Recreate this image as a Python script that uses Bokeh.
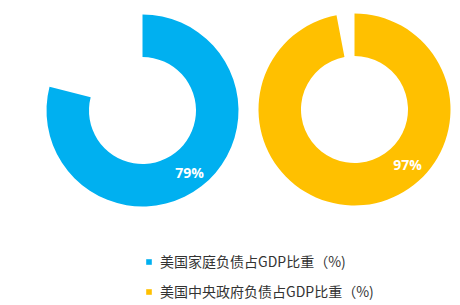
from bokeh.plotting import figure
from bokeh.models import Range1d, Legend, LegendItem, ColumnDataSource
from bokeh.core.properties import value
from bokeh.embed import file_html
from bokeh.resources import INLINE

series_names = ["美国家庭负债占GDP比重（%)", "美国中央政府负债占GDP比重（%)"]
series_values = [79, 97]
series_colors = ["#00B0F0", "#FFC000"]

W, H = 460, 305
p = figure(width=W, height=H, output_backend="svg", toolbar_location=None,
           x_range=Range1d(0, W), y_range=Range1d(0, H), min_border=0)
p.axis.visible = False
p.grid.visible = False
p.outline_line_color = None
p.background_fill_color = "white"

centers = [(142, H - 110), (354, H - 109)]
label_pos = [(189, H - 172), (407, H - 164)]
items = []
for name, v, c, (cx, cy), (lx, ly) in zip(series_names, series_values, series_colors, centers, label_pos):
    src = ColumnDataSource(dict(x=[cx], y=[cy], s=[90 - 360 * v / 100.0], e=[90]))
    r = p.annular_wedge(x="x", y="y", inner_radius=53.5, outer_radius=96,
                        start_angle="s", end_angle="e", start_angle_units="deg",
                        end_angle_units="deg", direction="anticlock",
                        fill_color=c, line_color=None, source=src)
    items.append(LegendItem(label=name, renderers=[r]))
    p.text(x=[lx], y=[ly], text=[f"{v}%"], text_color="white",
           text_font=value("Open Sans"), text_font_style="bold",
           text_font_size="14px", text_align="center", text_baseline="middle")

legend = Legend(items=items, location=(145, 4), orientation="vertical",
                label_text_font="Noto Sans CJK SC", label_text_font_size="14px",
                label_text_color="#333333", glyph_width=7, glyph_height=7,
                label_height=20, spacing=10, padding=0, margin=0,
                label_standoff=8, border_line_color=None, background_fill_alpha=0)
p.add_layout(legend, "center")

open("out.html", "w").write(file_html(p, INLINE))
